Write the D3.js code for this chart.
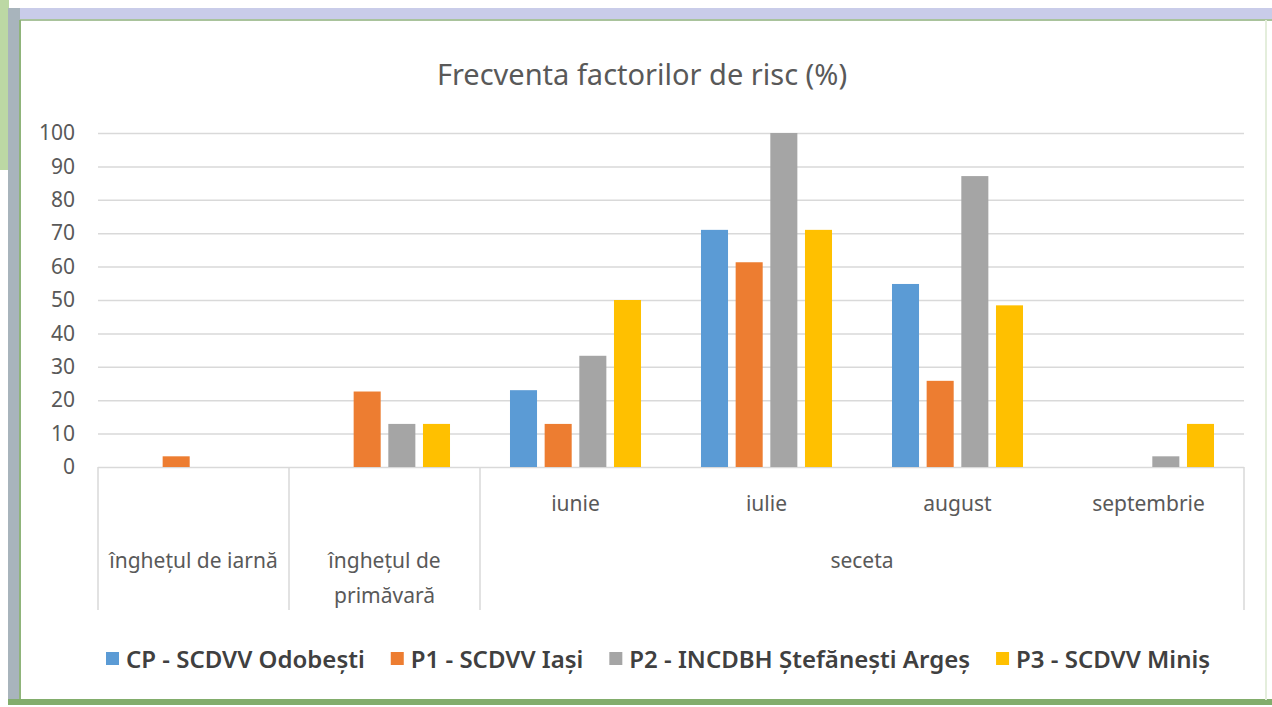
<!DOCTYPE html>
<html>
<head>
<meta charset="utf-8">
<script src="https://cdn.jsdelivr.net/npm/d3@7"></script>
<style>
  html, body { margin: 0; padding: 0; background: #fff; }
  svg { display: block; font-family: "Noto Sans", sans-serif; }
</style>
</head>
<body>
<div class="chart"></div>
<script>
const months = ['', '', 'iunie', 'iulie', 'august', 'septembrie'];
const factorLabels = [['înghețul de iarnă'], ['înghețul de', 'primăvară'], ['seceta']];
const factorSpan = [1, 1, 4];
const seriesNames = ['CP - SCDVV Odobești', 'P1 - SCDVV Iași', 'P2 - INCDBH Ștefănești Argeș', 'P3 - SCDVV Miniș'];
const cp = [0, 0, 23, 71, 54.8, 0];
const p1 = [3.2, 22.6, 12.9, 61.3, 25.8, 0];
const p2 = [0, 12.9, 33.3, 100, 87.1, 3.2];
const p3 = [0, 12.9, 50, 71, 48.4, 12.9];
const yTicks = [0, 10, 20, 30, 40, 50, 60, 70, 80, 90, 100];

const colors = ['#5b9bd5', '#ed7d31', '#a5a5a5', '#ffc000'];
const series = [cp, p1, p2, p3];

const chartWidth = 1272, chartHeight = 707;
const plot = { left: 98, right: 1244, top: 133, bottom: 467 };
const canvas = d3.select('div.chart').append('svg').attr('width', chartWidth).attr('height', chartHeight);

// frame of the screenshot
canvas.append('rect').attr('x', 0).attr('y', 0).attr('width', 9).attr('height', 170).attr('fill', '#bcd8a4');
canvas.append('rect').attr('x', 8).attr('y', 8).attr('width', 1264).attr('height', 12).attr('fill', '#c9cce9');
canvas.append('rect').attr('x', 8).attr('y', 19).attr('width', 1264).attr('height', 2).attr('fill', '#a9c39c');
canvas.append('rect').attr('x', 8).attr('y', 8).attr('width', 12).attr('height', 697).attr('fill', '#a8b4bc');
canvas.append('rect').attr('x', 19).attr('y', 20).attr('width', 2).attr('height', 685).attr('fill', '#8fb47a');
canvas.append('rect').attr('x', 8).attr('y', 699).attr('width', 1264).attr('height', 6).attr('fill', '#82ad6c');
canvas.append('rect').attr('x', 1265).attr('y', 20).attr('width', 2).attr('height', 680).attr('fill', '#e4eedc');

const y = d3.scaleLinear().domain([0, 100]).range([plot.bottom, plot.top]);
const x0 = d3.scaleBand().domain(d3.range(months.length)).range([plot.left, plot.right])
    .paddingInner(0.314).paddingOuter(0.157);
const x1 = d3.scaleBand().domain(d3.range(series.length)).range([0, x0.bandwidth()]).paddingInner(0.22);

canvas.append('text')
    .attr('x', 642).attr('y', 85)
    .attr('text-anchor', 'middle')
    .attr('font-size', 29).attr('fill', '#595959')
    .text('Frecventa factorilor de risc (%)');

// grid + y axis
const yAxis = d3.axisLeft(y).tickValues(yTicks).tickSize(-(plot.right - plot.left)).tickPadding(23);
const yG = canvas.append('g').attr('transform', `translate(${plot.left},0)`).call(yAxis);
yG.select('.domain').remove();
yG.selectAll('line').attr('stroke', '#d9d9d9').attr('stroke-width', 1.5);
yG.selectAll('text').attr('font-size', 21).attr('fill', '#595959').attr('font-family', '"Noto Sans", sans-serif');

// bars
canvas.append('g').selectAll('g')
    .data(months.map((m, i) => i))
    .join('g')
    .attr('transform', i => `translate(${x0(i)},0)`)
    .selectAll('rect')
    .data(i => series.map((s, k) => ({ k, v: s[i] })))
    .join('rect')
    .attr('x', d => x1(d.k))
    .attr('width', x1.bandwidth())
    .attr('y', d => y(d.v))
    .attr('height', d => y(0) - y(d.v))
    .attr('fill', d => colors[d.k]);

// category axis (two levels)
const step = x0.step();
const catAxis = canvas.append('g');
const boundaries = [0];
factorSpan.forEach(s => boundaries.push(boundaries[boundaries.length - 1] + s));
boundaries.forEach(b => {
    catAxis.append('line')
        .attr('x1', plot.left + b * step).attr('x2', plot.left + b * step)
        .attr('y1', y(0)).attr('y2', 610)
        .attr('stroke', '#d9d9d9').attr('stroke-width', 1.5);
});
months.forEach((m, i) => {
    if (!m) return;
    catAxis.append('text')
        .attr('x', x0(i) + x0.bandwidth() / 2).attr('y', 511)
        .attr('text-anchor', 'middle').attr('font-size', 21).attr('fill', '#595959')
        .text(m);
});
factorLabels.forEach((lines, i) => {
    const cx = plot.left + (boundaries[i] + factorSpan[i] / 2) * step;
    lines.forEach((line, j) => {
        catAxis.append('text')
            .attr('x', cx).attr('y', 568 + j * 35)
            .attr('text-anchor', 'middle').attr('font-size', 21).attr('fill', '#595959')
            .text(line);
    });
});

// legend
const legend = canvas.append('g').attr('transform', 'translate(0,668)');
let lx = 106;
seriesNames.forEach((name, k) => {
    legend.append('rect').attr('x', lx).attr('y', -16).attr('width', 13).attr('height', 13).attr('fill', colors[k]);
    const t = legend.append('text')
        .attr('x', lx + 20).attr('y', 0)
        .attr('font-size', 24).attr('font-weight', 600).attr('fill', '#404040')
        .text(name);
    lx += 20 + t.node().getComputedTextLength() + 26;
});
</script>
</body>
</html>
